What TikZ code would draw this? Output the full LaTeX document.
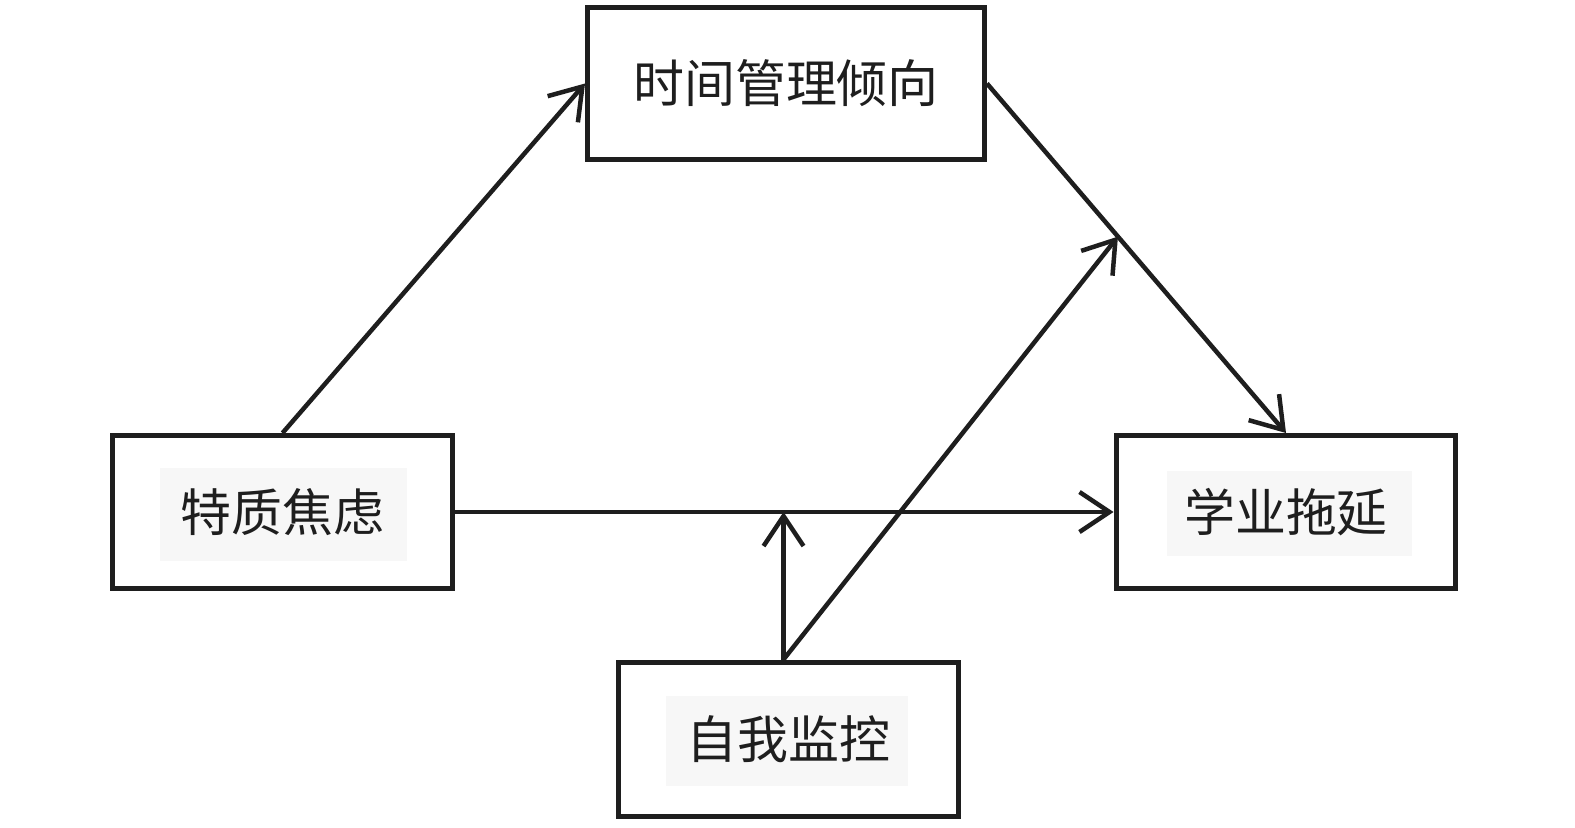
\documentclass[tikz,border=0pt]{standalone}
\usepackage{fontspec}
\newfontfamily\cjk{Noto Sans CJK SC}
\usetikzlibrary{arrows.meta,calc}
\definecolor{labelbg}{HTML}{F7F7F7}
\definecolor{ink}{HTML}{1E1E1E}
\tikzset{
  box/.style={draw=ink, line width=0.1cm, rectangle, inner sep=0pt,
    font=\cjk\fontsize{29}{29}\selectfont, text=ink},
  bg/.style={fill=labelbg, draw=none, rectangle, inner sep=0pt},
  conn/.style={draw=ink, line width=0.09cm,
    -{Straight Barb[length=0.6cm, width=0.8cm, line width=0.09cm]}},
}
\begin{document}
\begin{tikzpicture}[x=0.02cm, y=-0.02cm]
\useasboundingbox (0,0) rectangle (1575,828);
% label backgrounds
\node[bg, minimum width=4.94cm, minimum height=1.86cm] (bgl) at (283.5,514.5) {};
\node[bg, minimum width=4.90cm, minimum height=1.70cm] (bgr) at (1289.5,513.5) {};
\node[bg, minimum width=4.84cm, minimum height=1.80cm] (bgb) at (787,741) {};
% boxes
\node[box, minimum width=7.94cm, minimum height=3.06cm] (top) at (786,83.5) {时间管理倾向};
\node[box, minimum width=6.82cm, minimum height=3.06cm] (left) at (282.5,512) {特质焦虑};
\node[box, minimum width=6.80cm, minimum height=3.06cm] (right) at (1286,512) {学业拖延};
\node[box, minimum width=6.82cm, minimum height=3.10cm] (bot) at (788.5,739.5) {自我监控};
% coordinates
\coordinate (s) at ($(bot.north)+(-5,0)$);
\coordinate (m) at (s |- left.east);
\coordinate (d) at ($(top.east)!0.438!(right.north)$);
% connectors
\draw[conn] (left.north) -- (top.west);
\draw[conn] (top.east) -- (right.north);
\draw[conn] (left.east) -- (right.west);
\draw[conn] (s) -- (m);
\draw[conn] (s) -- (d);
\end{tikzpicture}
\end{document}
